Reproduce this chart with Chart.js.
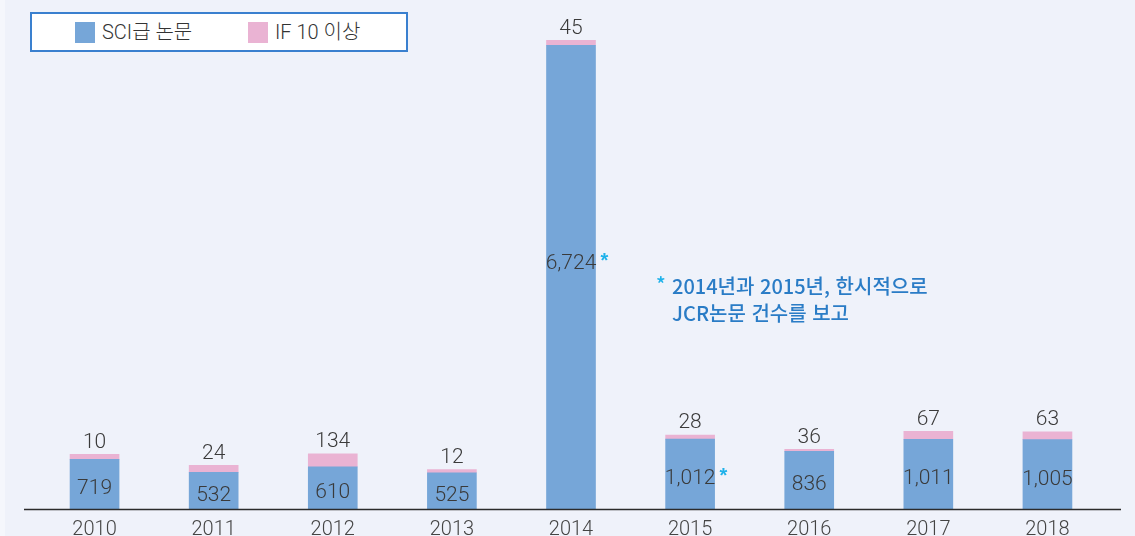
<!DOCTYPE html>
<html lang="ko">
<head>
<meta charset="utf-8">
<script src="https://cdn.jsdelivr.net/npm/chart.js@4.4.1/dist/chart.umd.min.js"></script>
<style>
  html, body { margin: 0; padding: 0; overflow: hidden; }
  body { width: 1135px; height: 536px; background: #eff2fa; position: relative; font-family: Roboto, "Noto Sans CJK KR", sans-serif; }
  .strip { position: absolute; left: 0; top: 0; width: 5px; height: 536px; background: #f5f7fc; }
  #wrap { position: absolute; left: 0; top: 0; width: 1135px; height: 536px; }
  .legend { position: absolute; left: 30px; top: 12px; width: 374px; height: 36px; border: 2px solid #3a80cf; background: #fff; }
  .legend .item { position: absolute; top: 7px; font-size: 20px; line-height: 22px; color: #333; font-weight: 300; }
  .legend .sw { position: absolute; width: 20px; height: 21px; }
  .note { position: absolute; left: 656px; top: 272px; color: #2a7cc6; font-family: "Noto Sans CJK KR", sans-serif; font-size: 20px; line-height: 27px; font-weight: 500; }
  .note .star { color: #1fb2ea; position: absolute; left: 0; top: -2px; }
  .note .ln { padding-left: 16px; white-space: nowrap; }
</style>
</head>
<body>
<div class="strip"></div>
<div id="wrap"><canvas id="chart" width="1135" height="536"></canvas></div>
<div class="legend">
  <div class="sw" style="left:43px;top:8px;background:#76a6d8"></div>
  <div class="item" style="left:70px">SCI급 논문</div>
  <div class="sw" style="left:216px;top:8px;background:#eab3d3"></div>
  <div class="item" style="left:243px">IF 10 이상</div>
</div>
<div class="note">
  <span class="star">*</span>
  <div class="ln">2014년과 2015년, 한시적으로</div>
  <div class="ln">JCR논문 건수를 보고</div>
</div>
<script>
// --- Data ---
const years = ['2010', '2011', '2012', '2013', '2014', '2015', '2016', '2017', '2018'];
const sciPapers = [719, 532, 610, 525, 6724, 1012, 836, 1011, 1005];
const ifOver10 = [10, 24, 134, 12, 45, 28, 36, 67, 63];
// pink segment heights as drawn in the source (exaggerated there, axis units)
const ifBarHeight = [72, 100, 190, 45, 72, 58, 30, 115, 115];
// years flagged with the JCR note
const starred = ['2014', '2015'];

const BLUE = '#76a6d8';
const PINK = '#eab3d3';
const STAR = '#1fb2ea';
const NUM_FONT = '300 21px Roboto, "Liberation Sans", sans-serif';

// value labels + long baseline
const labelPlugin = {
    id: 'valueLabels',
    afterDatasetsDraw(chart) {
        const ctx = chart.ctx;
        const area = chart.chartArea;
        const blueMeta = chart.getDatasetMeta(0);
        const pinkMeta = chart.getDatasetMeta(1);

        ctx.save();
        // baseline
        ctx.strokeStyle = '#2b2b2b';
        ctx.lineWidth = 1.5;
        ctx.beginPath();
        ctx.moveTo(24, area.bottom + 0.5);
        ctx.lineTo(1121, area.bottom + 0.5);
        ctx.stroke();

        ctx.font = NUM_FONT;
        ctx.textAlign = 'center';
        ctx.textBaseline = 'middle';
        blueMeta.data.forEach((bar, i) => {
            const text = sciPapers[i].toLocaleString('en-US');
            let y = (bar.y + bar.base) / 2 + 5;
            if (i === 4) y = 264;
            ctx.fillStyle = '#3a3a3a';
            ctx.fillText(text, bar.x, y);
            if (starred.includes(years[i])) {
                const w = ctx.measureText(text).width;
                ctx.fillStyle = STAR;
                ctx.font = 'bold 20px "Liberation Sans", Arial, sans-serif';
                ctx.fillText('*', bar.x + w / 2 + 8, y - 3);
                ctx.font = NUM_FONT;
            }
        });
        pinkMeta.data.forEach((bar, i) => {
            ctx.fillStyle = '#3a3a3a';
            ctx.fillText(String(ifOver10[i]), bar.x, bar.y - 12);
        });
        ctx.restore();
    }
};

new Chart(document.getElementById('chart').getContext('2d'), {
    type: 'bar',
    data: {
        labels: years,
        datasets: [
            {
                label: 'SCI급 논문',
                data: sciPapers,
                backgroundColor: BLUE,
                barThickness: 49
            },
            {
                label: 'IF 10 이상',
                data: ifBarHeight,
                backgroundColor: PINK,
                barThickness: 49
            }
        ]
    },
    options: {
        responsive: false,
        animation: false,
        layout: { padding: { left: 35, right: 28, top: 0, bottom: 0 } },
        plugins: {
            legend: { display: false },
            tooltip: { enabled: false }
        },
        scales: {
            x: {
                stacked: true,
                grid: { display: false, drawTicks: false },
                border: { display: false },
                afterFit(scale) { scale.height = 27; },
                ticks: {
                    padding: 9,
                    color: '#444',
                    font: { size: 20, weight: '300', family: 'Roboto, "Liberation Sans", sans-serif' }
                }
            },
            y: {
                stacked: true,
                display: false,
                min: 0,
                max: 7380
            }
        }
    },
    plugins: [labelPlugin]
});
</script>
</body>
</html>
